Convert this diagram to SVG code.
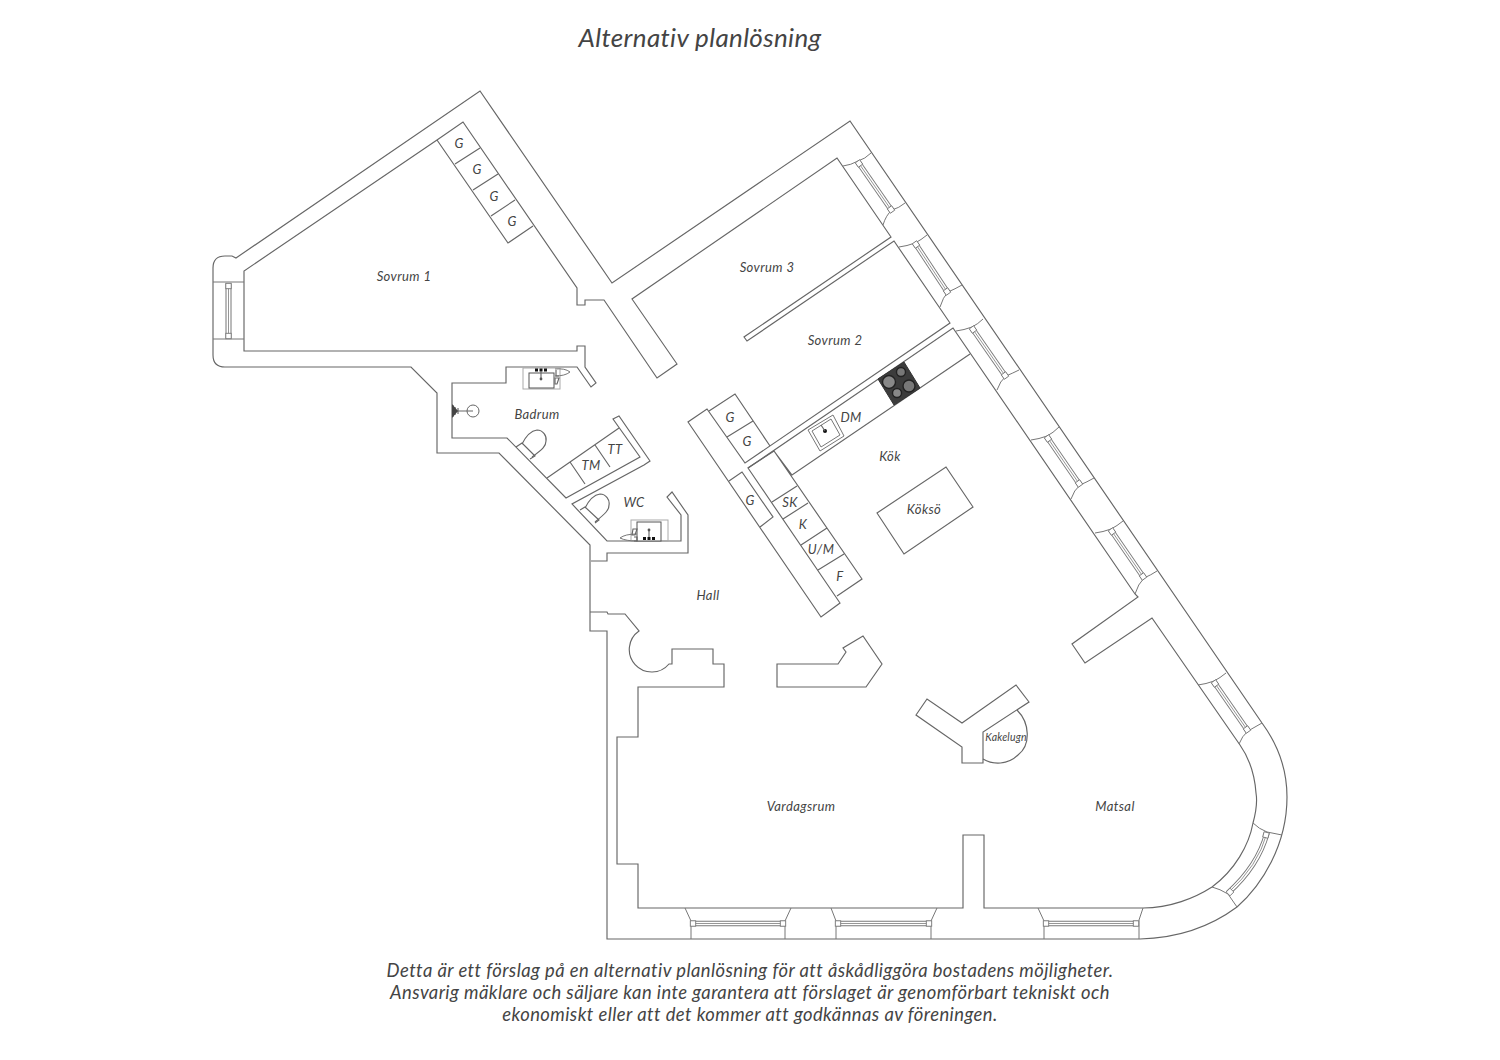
<svg xmlns="http://www.w3.org/2000/svg" width="1500" height="1060" viewBox="0 0 1500 1060">
<style>
.w{fill:none;stroke:#666;stroke-width:1.15;stroke-linejoin:miter}
.t{fill:none;stroke:#777;stroke-width:1}
.g1{fill:none;stroke:#777;stroke-width:5.4}
.g2{fill:none;stroke:#fff;stroke-width:3.6}
.g3{fill:none;stroke:#8a8a8a;stroke-width:.9}
.k{fill:#111;stroke:none}
.sq{fill:#fff;stroke:#777;stroke-width:.9}
text{font-family:"Lato","Liberation Sans",sans-serif;font-style:italic;fill:#444;text-anchor:middle}
.l{font-size:13px;letter-spacing:.4px}
.c{font-size:18.4px;letter-spacing:.43px}
</style>
<defs><rect id="sq" x="-2.7" y="-2.7" width="5.4" height="5.4" class="sq"/></defs>
<rect width="1500" height="1060" fill="#fff"/>
<g id="walls">
<path class="w" d="M236,258 L480,91 L612,283 L850,121 L1262,723 Q1287,757 1287,797 C1287,845 1262,885 1237,907 C1210,927 1180,938 1140,939 L607,939 L607,631 L590,631 L590,545 L499,453 L437,453 L437,393 L411,367 L225,367 Q213,367 213,355 L213,268 Q213,256 225,256 L232,256 Z"/>
<path class="w" d="M590,612 L607,612 L608,614 L625,614 L639,631 A22.5,22.5 0 1 0 669,664 L672,664 L672,649 L713,649 L713,664 L724,664 L724,687 L638,687 L638,737 L617,737 L617,864 L638,864 L638,908 L963,908 L963,835 L984,835 L984,908 L1143,908 C1170,908 1195,898 1212,887 C1235,870 1249,845 1253,823 Q1258,805 1256,793 Q1254,765 1240,745 L1152,618 L1085,663 L1072,644 L1138,597 L1135,594 L953,328 L748,468 L840,603 L821,617 L688,422 L707,409 L745,463 L950,323 L894,241 L747,341 L744,337 L891,237 L837,158 L632,299 L677,364 L657,378 L604,300 L585,300 L585,305 L577,305 L577,288 L463,122 L437,140 L244,271 L244,351 L577,351 L577,346 L585,346 L585,367 L596,383 L591,387 L577,367 L506,367 L506,383 L452,383 L452,438 L507,438 L566,498 L640,457 L613,419 L619,416 L650,461 L644,465 L572,504 L607,541 L681,541 L681,515 L667,497 L672,492 L688,515 L688,553 L607,553 L607,561 L591,561"/>
<path class="w" d="M777,664 L838,664 L846,652 L843,648 L863,636 L882,664 L866,687 L777,687 Z"/>
<path class="w" d="M916,715 L927,699 L962,723 L1016,685 L1029,702 L983,732 L983,763 L962,763 L962,747 Z"/>
<path class="w" d="M1017,710 C1030,723 1031,745 1018,755 C1008,765 993,765 983,759"/>
</g>
<g id="cabinets">
<path class="w" d="M437,140 L508,243 L533,226 M455,164 L480,148 M473,190 L498,174 M491,216 L515,200"/>
<path class="w" d="M709,411 L735,394 L770,446 M727,437 L753,421"/>
<path class="w" d="M729,481 L742,472 L773,517 L760,527"/>
<path class="w" d="M748,468 L774,451 L862,579 L837,596 M774,451 L792,475 L970,354 M772,502 L797,486 M783,519 L808,503 M801,545 L827,528 M818,570 L844,554"/>
<path class="w" d="M877,513 L946,467 L973,507 L904,554 Z"/>
<path class="w" d="M547,478 L619,428 M570,462 L585,484 M595,445 L610,467"/>
</g>
<g id="hob">
<polygon points="878,379 904,362 920,388 894,405" fill="#3c3c3c" stroke="#333"/>
<circle cx="889" cy="382" r="6.500" fill="#888" stroke="#222" stroke-width="1.400"/>
<circle cx="901" cy="372" r="4.500" fill="#777" stroke="#222" stroke-width="1.400"/>
<circle cx="909" cy="386" r="6" fill="#777" stroke="#222" stroke-width="1.400"/>
<circle cx="897" cy="393" r="4.500" fill="#888" stroke="#222" stroke-width="1.400"/>
</g>
<g id="kitchen-sink">
<polygon class="t" points="808,430 833,415 844,436 820,451"/>
<polygon class="t" points="812,431 831,419 840,435 821,447"/>
<circle cx="825" cy="431" r="2" class="k"/>
<path class="w" d="M821,425 L825,431"/>
</g>
<g id="bath-fixtures">
<path class="w" d="M516,447 L522,443 L535,456 L530,459"/>
<path class="w" d="M522,444 C526,436 530,431 537,430 C543,430 547,436 546,441 C546,446 543,449 532,457"/>
<path class="w" d="M580,510 L585,507 L599,520 L595,523"/>
<path class="w" d="M585,508 C589,500 593,495 600,494 C606,494 610,500 609,505 C609,510 606,513 595,522"/>
<rect x="523" y="368" width="37" height="21" fill="none" stroke="#aaa"/>
<rect x="529" y="373" width="25" height="15" fill="#fff" stroke="#555"/>
<path d="M535,370 H548" stroke="#111" stroke-width="3" stroke-dasharray="3 1.500"/>
<path class="w" d="M541,371 L541,379"/>
<circle cx="541" cy="379" r="1.400" fill="#555"/>
<path class="t" d="M555,369 Q565,368 570,372 Q565,376 555,376"/>
<path class="w" d="M556,370 L556,376 L559,376 M555,378 L559,378 L557,384 L555,384 Z"/>
<rect x="631" y="520" width="37" height="21" fill="none" stroke="#aaa"/>
<rect x="637" y="522" width="24" height="19" fill="#fff" stroke="#555"/>
<path d="M643,538.500 H656" stroke="#111" stroke-width="3" stroke-dasharray="3 1.500"/>
<path class="w" d="M649,530 L649,537"/>
<circle cx="649" cy="530" r="1.400" fill="#555"/>
<path class="t" d="M637,534 Q625,534 620,538 Q626,541 637,541"/>
<path class="w" d="M633,529 L637,529 L635,535 L632,535 Z M634,537 L637,537 L637,541 L634,541"/>
<circle cx="473" cy="411" r="6" fill="none" stroke="#666"/>
<path class="w" d="M453,405 L453,417 M455,407 L455,415 M455,411 L473,411 M458,408 L458,414"/>
<path d="M452,404 L458,411 L452,418 Z" fill="#444"/>
</g>
<g id="windows">
<path class="t" d="M213,282 L244,282 M213,339 L244,339"/>
<rect x="226" y="284" width="5" height="54" fill="#fff" stroke="#777"/>
<path class="g3" d="M228.500,284 L228.500,338"/>
<path class="t" d="M843,166 Q851,165 858,161 Q865,159 871,153 M883,225 Q886,215 892,210 Q899,208 905,203"/>
<path class="g1" d="M858,162 L892,211"/><path class="g2" d="M858,162 L892,211"/><path class="g3" d="M858,162 L892,211"/>
<path class="t" d="M899,247 Q907,246 915,243 Q921,240 927,235 M940,307 Q943,297 948,292 Q955,289 962,285"/>
<path class="g1" d="M915,243 L948,293"/><path class="g2" d="M915,243 L948,293"/><path class="g3" d="M915,243 L948,293"/>
<path class="t" d="M956,331 Q964,330 972,327 Q978,324 983,319 M997,390 Q1000,381 1006,376 Q1013,373 1019,370"/>
<path class="g1" d="M972,328 L1006,377"/><path class="g2" d="M972,328 L1006,377"/><path class="g3" d="M972,328 L1006,377"/>
<path class="t" d="M1031,440 Q1039,439 1047,436 Q1053,433 1059,427 M1071,499 Q1074,490 1080,485 Q1087,482 1094,478"/>
<path class="g1" d="M1047,437 L1080,485"/><path class="g2" d="M1047,437 L1080,485"/><path class="g3" d="M1047,437 L1080,485"/>
<path class="t" d="M1095,533 Q1103,532 1111,529 Q1117,526 1123,521 M1135,594 Q1138,584 1144,578 Q1151,575 1157,571"/>
<path class="g1" d="M1111,530 L1144,578"/><path class="g2" d="M1111,530 L1144,578"/><path class="g3" d="M1111,530 L1144,578"/>
<path class="t" d="M1198,685 Q1206,684 1214,681 Q1220,678 1226,673 M1239,744 Q1242,736 1248,731 Q1255,727 1262,723"/>
<path class="g1" d="M1214,682 L1248,731"/><path class="g2" d="M1214,682 L1248,731"/><path class="g3" d="M1214,682 L1248,731"/>
<path class="t" d="M1253,823 Q1259,829 1267,832 L1282,835 M1212,887 Q1220,889 1228,894 L1237,907"/>
<path class="g1" d="M1267,833 Q1258,866 1228,893"/><path class="g2" d="M1267,833 Q1258,866 1228,893"/><path class="g3" d="M1267,833 Q1258,866 1228,893"/>
<path class="t" d="M685,908 L691,921 L691,939 M791,908 L785,921 L785,939"/>
<path class="g1" d="M691,923.500 L785,923.500"/><path class="g2" d="M691,923.500 L785,923.500"/><path class="g3" d="M691,923.500 L785,923.500"/>
<path class="t" d="M831,908 L836,921 L836,939 M937,908 L931,921 L931,939"/>
<path class="g1" d="M836,923.500 L931,923.500"/><path class="g2" d="M836,923.500 L931,923.500"/><path class="g3" d="M836,923.500 L931,923.500"/>
<path class="t" d="M1038,908 L1044,921 L1044,939 M1143,908 L1139,920 L1139,939"/>
<path class="g1" d="M1044,923.500 L1138,923.500"/><path class="g2" d="M1044,923.500 L1138,923.500"/><path class="g3" d="M1044,923.500 L1138,923.500"/>
<use href="#sq" transform="translate(693,923.500)"/><use href="#sq" transform="translate(783,923.500)"/>
<use href="#sq" transform="translate(838,923.500)"/><use href="#sq" transform="translate(929,923.500)"/>
<use href="#sq" transform="translate(1046,923.500)"/><use href="#sq" transform="translate(1136,923.500)"/>
<use href="#sq" transform="translate(859,163.500) rotate(55)"/><use href="#sq" transform="translate(891,209.500) rotate(55)"/>
<use href="#sq" transform="translate(916,244.500) rotate(55)"/><use href="#sq" transform="translate(947,291.500) rotate(55)"/>
<use href="#sq" transform="translate(973,329.500) rotate(55)"/><use href="#sq" transform="translate(1005,375.500) rotate(55)"/>
<use href="#sq" transform="translate(1048,438.500) rotate(55)"/><use href="#sq" transform="translate(1079,483.500) rotate(55)"/>
<use href="#sq" transform="translate(1112,531.500) rotate(55)"/><use href="#sq" transform="translate(1143,576.500) rotate(55)"/>
<use href="#sq" transform="translate(1215,683.500) rotate(55)"/><use href="#sq" transform="translate(1247,729.500) rotate(55)"/>
<use href="#sq" transform="translate(1266,835) rotate(105)"/><use href="#sq" transform="translate(1230,892) rotate(135)"/>
<use href="#sq" transform="translate(228.500,286)"/><use href="#sq" transform="translate(228.500,336)"/>
</g>
<g id="labels">
<text x="700" y="47" font-size="26" letter-spacing=".35">Alternativ planlösning</text>
<text class="l" x="404" y="281">Sovrum 1</text>
<text class="l" x="459" y="148">G</text>
<text class="l" x="477" y="174">G</text>
<text class="l" x="494" y="201">G</text>
<text class="l" x="512" y="226">G</text>
<text class="l" x="767" y="272">Sovrum 3</text>
<text class="l" x="835" y="345">Sovrum 2</text>
<text class="l" x="851" y="422">DM</text>
<text class="l" x="890" y="461">Kök</text>
<text class="l" x="924" y="514">Köksö</text>
<text class="l" x="730" y="422">G</text>
<text class="l" x="747" y="446">G</text>
<text class="l" x="750" y="505">G</text>
<text class="l" x="790" y="507">SK</text>
<text class="l" x="803" y="529">K</text>
<text class="l" x="821" y="554">U/M</text>
<text class="l" x="840" y="581">F</text>
<text class="l" x="708" y="600">Hall</text>
<text class="l" x="537" y="419">Badrum</text>
<text class="l" x="615" y="454">TT</text>
<text class="l" x="591" y="470">TM</text>
<text class="l" x="634" y="507">WC</text>
<text x="1006" y="741" font-size="10.500" letter-spacing=".2">Kakelugn</text>
<text class="l" x="801" y="811">Vardagsrum</text>
<text class="l" x="1115" y="811">Matsal</text>
<text class="c" x="750" y="977">Detta är ett förslag på en alternativ planlösning för att åskådliggöra bostadens möjligheter.</text>
<text class="c" x="750" y="999">Ansvarig mäklare och säljare kan inte garantera att förslaget är genomförbart tekniskt och</text>
<text class="c" x="750" y="1021">ekonomiskt eller att det kommer att godkännas av föreningen.</text>
</g>
</svg>
